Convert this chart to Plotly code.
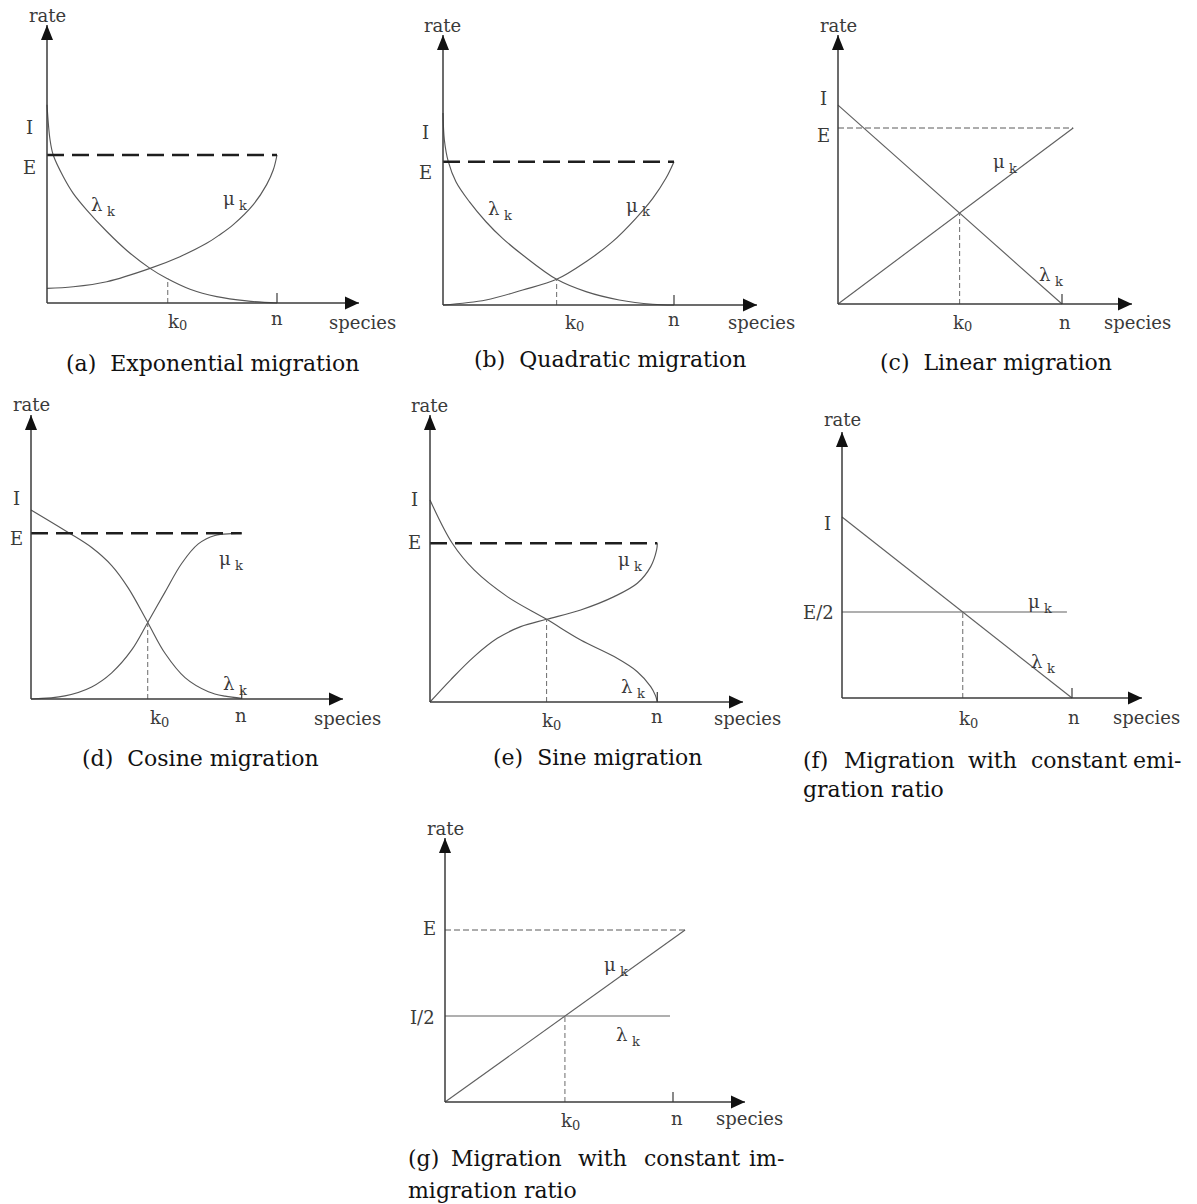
import plotly.graph_objects as go

W, H = 1197, 1204

# Species count k is given as a fraction of n; rates are in units of E
# (panel f uses E as the unit too, with the constant emigration at E/2).

# (a) Exponential migration
EXP_LAM_K = [0, 0.013, 0.027, 0.071, 0.114, 0.173, 0.26, 0.347, 0.448, 0.52, 0.622, 0.738, 0.868, 1.0]
EXP_LAM = [1.34, 1.105, 1.0, 0.853, 0.741, 0.628, 0.483, 0.355, 0.234, 0.167, 0.093, 0.043, 0.014, 0.0]
EXP_MU_K = [0, 0.114, 0.26, 0.448, 0.578, 0.694, 0.75, 0.81, 0.897, 0.955, 0.984, 1.0]
EXP_MU = [0.099, 0.11, 0.144, 0.234, 0.313, 0.403, 0.46, 0.53, 0.665, 0.80, 0.9, 1.0]
EXP_E_K = [0, 1.0]
EXP_E = [1.0, 1.0]
EXP_K0, EXP_K0_RATE = 0.525, 0.167

# (b) Quadratic migration
QUAD_LAM_K = [0, 0.006, 0.023, 0.056, 0.114, 0.186, 0.258, 0.345, 0.492, 0.619, 0.763, 0.908, 1.0]
QUAD_LAM = [1.34, 1.15, 1.0, 0.86, 0.721, 0.581, 0.465, 0.349, 0.179, 0.093, 0.035, 0.005, 0.0]
QUAD_MU_K = [0, 0.186, 0.345, 0.492, 0.619, 0.734, 0.835, 0.908, 0.965, 1.0]
QUAD_MU = [0.0, 0.035, 0.105, 0.179, 0.302, 0.442, 0.605, 0.744, 0.884, 1.0]
QUAD_E_K = [0, 1.0]
QUAD_E = [1.0, 1.0]
QUAD_K0, QUAD_K0_RATE = 0.492, 0.179

# (c) Linear migration
LIN_LAM_K = [0, 1.0]
LIN_LAM = [1.13, 0.0]
LIN_MU_K = [0, 1.05]
LIN_MU = [0.0, 1.0]
LIN_E_K = [0, 1.05]
LIN_E = [1.0, 1.0]
LIN_K0, LIN_K0_RATE = 0.543, 0.517

# (d) Cosine migration
COS_LAM_K = [0, 0.177, 0.288, 0.383, 0.462, 0.554, 0.636, 0.731, 0.842, 0.921, 1.0]
COS_LAM = [1.141, 1.005, 0.914, 0.805, 0.669, 0.462, 0.276, 0.129, 0.044, 0.017, 0.004]
COS_MU_K = [0, 0.161, 0.288, 0.383, 0.478, 0.554, 0.636, 0.715, 0.794, 0.873, 0.952, 1.0]
COS_MU = [0.0, 0.019, 0.073, 0.158, 0.296, 0.462, 0.645, 0.818, 0.936, 0.987, 0.998, 1.0]
COS_E_K = [0, 1.0]
COS_E = [1.0, 1.0]
COS_K0, COS_K0_RATE = 0.554, 0.462

# (e) Sine migration
SIN_LAM_K = [0, 0.098, 0.194, 0.34, 0.513, 0.663, 0.81, 0.912, 0.971, 0.992, 1.0]
SIN_LAM = [1.273, 1.0, 0.832, 0.664, 0.521, 0.391, 0.286, 0.191, 0.097, 0.04, 0.0]
SIN_MU_K = [0, 0.091, 0.194, 0.296, 0.399, 0.513, 0.663, 0.81, 0.912, 0.971, 0.997, 1.0]
SIN_MU = [0.0, 0.14, 0.286, 0.401, 0.475, 0.521, 0.58, 0.664, 0.748, 0.853, 0.958, 1.0]
SIN_E_K = [0, 1.0]
SIN_E = [1.0, 1.0]
SIN_K0, SIN_K0_RATE = 0.513, 0.521

# (f) Constant emigration ratio
CER_LAM_K = [0, 1.0]
CER_LAM = [1.052, 0.0]
CER_MU_K = [0, 0.978]
CER_MU = [0.5, 0.5]
CER_K0, CER_K0_RATE = 0.525, 0.5

# (g) Constant immigration ratio
CIR_LAM_K = [0, 0.987]
CIR_LAM = [0.5, 0.5]
CIR_MU_K = [0, 1.053]
CIR_MU = [0.0, 1.0]
CIR_E_K = [0, 1.053]
CIR_E = [1.0, 1.0]
CIR_K0, CIR_K0_RATE = 0.526, 0.5

AXIS_COLOR = "#3b3b3b"
CURVE_COLOR = "#585858"
LABEL_FONT = dict(family="DejaVu Serif", size=18, color="#3a3a3a")
SUB_FONT = dict(family="DejaVu Serif", size=13, color="#3a3a3a")
CAPTION_FONT = dict(family="DejaVu Serif", size=22, color="#111111")

STYLES = {
    "curve": dict(color=CURVE_COLOR, width=1.15),
    "line": dict(color="#606060", width=1.15),
    "thick_dash": dict(color="#1e1e1e", width=2.6, dash="17px,8px"),
    "thin_dash": dict(color="#5a5a5a", width=1.0, dash="6px,3px"),
    "k0": dict(color="#6a6a6a", width=1.0, dash="5px,3px"),
}

# Panel placement on the page (origin pixel, pixels per unit, arrow tips)
PANELS = [
    dict(ox=47, oy=303, xu=230, yu=148, xtip=359, ytip=25, shape="spline",
         series=[(EXP_LAM_K, EXP_LAM, "curve"), (EXP_MU_K, EXP_MU, "curve"),
                 (EXP_E_K, EXP_E, "thick_dash")], k0=(EXP_K0, EXP_K0_RATE)),
    dict(ox=443, oy=305, xu=231, yu=143.3, xtip=757, ytip=35, shape="spline",
         series=[(QUAD_LAM_K, QUAD_LAM, "curve"), (QUAD_MU_K, QUAD_MU, "curve"),
                 (QUAD_E_K, QUAD_E, "thick_dash")], k0=(QUAD_K0, QUAD_K0_RATE)),
    dict(ox=838, oy=304, xu=224, yu=176, xtip=1132, ytip=35, shape="linear",
         series=[(LIN_LAM_K, LIN_LAM, "line"), (LIN_MU_K, LIN_MU, "line"),
                 (LIN_E_K, LIN_E, "thin_dash")], k0=(LIN_K0, LIN_K0_RATE)),
    dict(ox=31, oy=699, xu=210.7, yu=165.7, xtip=343, ytip=415, shape="spline",
         series=[(COS_LAM_K, COS_LAM, "curve"), (COS_MU_K, COS_MU, "curve"),
                 (COS_E_K, COS_E, "thick_dash")], k0=(COS_K0, COS_K0_RATE)),
    dict(ox=430, oy=702, xu=227.3, yu=158.7, xtip=743, ytip=415, shape="spline",
         series=[(SIN_LAM_K, SIN_LAM, "curve"), (SIN_MU_K, SIN_MU, "curve"),
                 (SIN_E_K, SIN_E, "thick_dash")], k0=(SIN_K0, SIN_K0_RATE)),
    dict(ox=842, oy=698, xu=230, yu=172, xtip=1142, ytip=432, shape="linear",
         series=[(CER_LAM_K, CER_LAM, "line"), (CER_MU_K, CER_MU, "line")],
         k0=(CER_K0, CER_K0_RATE)),
    dict(ox=445, oy=1102, xu=228, yu=172, xtip=745, ytip=838, shape="linear",
         series=[(CIR_LAM_K, CIR_LAM, "line"), (CIR_MU_K, CIR_MU, "line"),
                 (CIR_E_K, CIR_E, "thin_dash")], k0=(CIR_K0, CIR_K0_RATE)),
]

fig = go.Figure()
layout_axes = {}
shapes = []
annotations = []

for i, p in enumerate(PANELS, start=1):
    xa = "x" if i == 1 else f"x{i}"
    ya = "y" if i == 1 else f"y{i}"
    ox, oy, xu, yu = p["ox"], p["oy"], p["xu"], p["yu"]
    dx0, dx1 = ox - 20, p["xtip"] + 15
    dy0, dy1 = p["ytip"] - 8, oy + 15
    layout_axes["xaxis" if i == 1 else f"xaxis{i}"] = dict(
        domain=[dx0 / W, dx1 / W], range=[(dx0 - ox) / xu, (dx1 - ox) / xu],
        visible=False, anchor=ya, fixedrange=True)
    layout_axes["yaxis" if i == 1 else f"yaxis{i}"] = dict(
        domain=[1 - dy1 / H, 1 - dy0 / H], range=[(oy - dy1) / yu, (oy - dy0) / yu],
        visible=False, anchor=xa, fixedrange=True)

    k_end = (p["xtip"] - ox) / xu
    r_end = (oy - p["ytip"]) / yu

    # axes with arrow heads and the tick at n
    shapes.append(dict(type="line", xref=xa, yref=ya, x0=0, y0=0, x1=k_end, y1=0,
                       line=dict(color=AXIS_COLOR, width=1.5)))
    shapes.append(dict(type="line", xref=xa, yref=ya, x0=0, y0=0, x1=0, y1=r_end,
                       line=dict(color=AXIS_COLOR, width=1.5)))
    shapes.append(dict(type="path", xref=xa, yref=ya, xsizemode="pixel", ysizemode="pixel",
                       xanchor=k_end, yanchor=0, path="M0,0 L-14,6.5 L-14,-6.5 Z",
                       fillcolor="#111111", line=dict(width=0)))
    shapes.append(dict(type="path", xref=xa, yref=ya, xsizemode="pixel", ysizemode="pixel",
                       xanchor=0, yanchor=r_end, path="M0,0 L-6,-15 L6,-15 Z",
                       fillcolor="#111111", line=dict(width=0)))
    shapes.append(dict(type="line", xref=xa, yref=ya, ysizemode="pixel", yanchor=0,
                       x0=1.0, x1=1.0, y0=0, y1=10,
                       line=dict(color=AXIS_COLOR, width=1.2)))

    for ks, rs, style in p["series"]:
        fig.add_trace(go.Scatter(
            x=ks, y=rs, xaxis=xa, yaxis=ya, mode="lines",
            line=dict(shape=p["shape"] if style in ("curve", "line") else "linear",
                      smoothing=1.0, **STYLES[style]),
            hoverinfo="skip", showlegend=False, cliponaxis=False))
    k0, k0r = p["k0"]
    fig.add_trace(go.Scatter(
        x=[k0, k0], y=[0, k0r], xaxis=xa, yaxis=ya, mode="lines",
        line=STYLES["k0"], hoverinfo="skip", showlegend=False, cliponaxis=False))


def label(text, px, py, xanchor="center", font=LABEL_FONT):
    annotations.append(dict(text=text, x=px / W, y=1 - py / H, xref="paper", yref="paper",
                            xanchor=xanchor, yanchor="middle", showarrow=False, font=font))


def greek(sym, px, py):
    """Greek rate symbol with its lowered, smaller k index."""
    label(sym, px, py, "left")
    label("k", px + 16, py + 7, "left", SUB_FONT)


def k_zero(cx, cy):
    label("k", cx - 9, cy - 1, "left")
    label("0", cx + 2, cy + 4, "left", SUB_FONT)


# (a)
label("rate", 47, 15); label("I", 29, 127); label("E", 29, 167)
greek("λ", 89, 204); greek("μ", 221, 198)
k_zero(175, 322); label("n", 277, 318); label("species", 327, 322, "left")
label("(a)  Exponential migration", 212, 363, font=CAPTION_FONT)
# (b)
label("rate", 442, 25); label("I", 425, 133); label("E", 425, 173)
greek("λ", 486, 208); greek("μ", 624, 205)
k_zero(572, 323); label("n", 674, 320); label("species", 726, 322, "left")
label("(b)  Quadratic migration", 610, 360, font=CAPTION_FONT)
# (c)
label("rate", 838, 25); label("I", 823, 98); label("E", 823, 135)
greek("μ", 991, 161); greek("λ", 1037, 274)
k_zero(960, 323); label("n", 1065, 322); label("species", 1102, 322, "left")
label("(c)  Linear migration", 996, 362, font=CAPTION_FONT)
# (d)
label("rate", 31, 404); label("I", 16, 498); label("E", 16, 538)
greek("μ", 217, 558); greek("λ", 221, 683)
k_zero(157, 718); label("n", 241, 715); label("species", 312, 718, "left")
label("(d)  Cosine migration", 200, 758, font=CAPTION_FONT)
# (e)
label("rate", 429, 405); label("I", 414, 500); label("E", 414, 542)
greek("μ", 616, 560); greek("λ", 619, 686)
k_zero(549, 721); label("n", 657, 716); label("species", 712, 718, "left")
label("(e)  Sine migration", 597, 757, font=CAPTION_FONT)
# (f)
label("rate", 842, 420); label("I", 827, 523); label("E/2", 818, 612)
greek("μ", 1026, 601); greek("λ", 1029, 661)
k_zero(966, 719); label("n", 1074, 717); label("species", 1111, 717, "left")
for word, px in [("(f)", 801), ("Migration", 842), ("with", 966), ("constant", 1029), ("emi-", 1131)]:
    label(word, px, 760, "left", CAPTION_FONT)
label("gration ratio", 801, 789, "left", CAPTION_FONT)
# (g)
label("rate", 445, 828); label("E", 429, 928); label("I/2", 422, 1017)
greek("μ", 602, 964); greek("λ", 614, 1034)
k_zero(568, 1121); label("n", 677, 1118); label("species", 714, 1118, "left")
for word, px in [("(g)", 406), ("Migration", 449), ("with", 576), ("constant", 642), ("im-", 747)]:
    label(word, px, 1158, "left", CAPTION_FONT)
label("migration ratio", 406, 1190, "left", CAPTION_FONT)

fig.update_layout(
    width=W, height=H, margin=dict(l=0, r=0, t=0, b=0),
    paper_bgcolor="white", plot_bgcolor="white",
    shapes=shapes, annotations=annotations, showlegend=False,
    **layout_axes,
)

fig.write_html("out.html", config={"displayModeBar": False})
